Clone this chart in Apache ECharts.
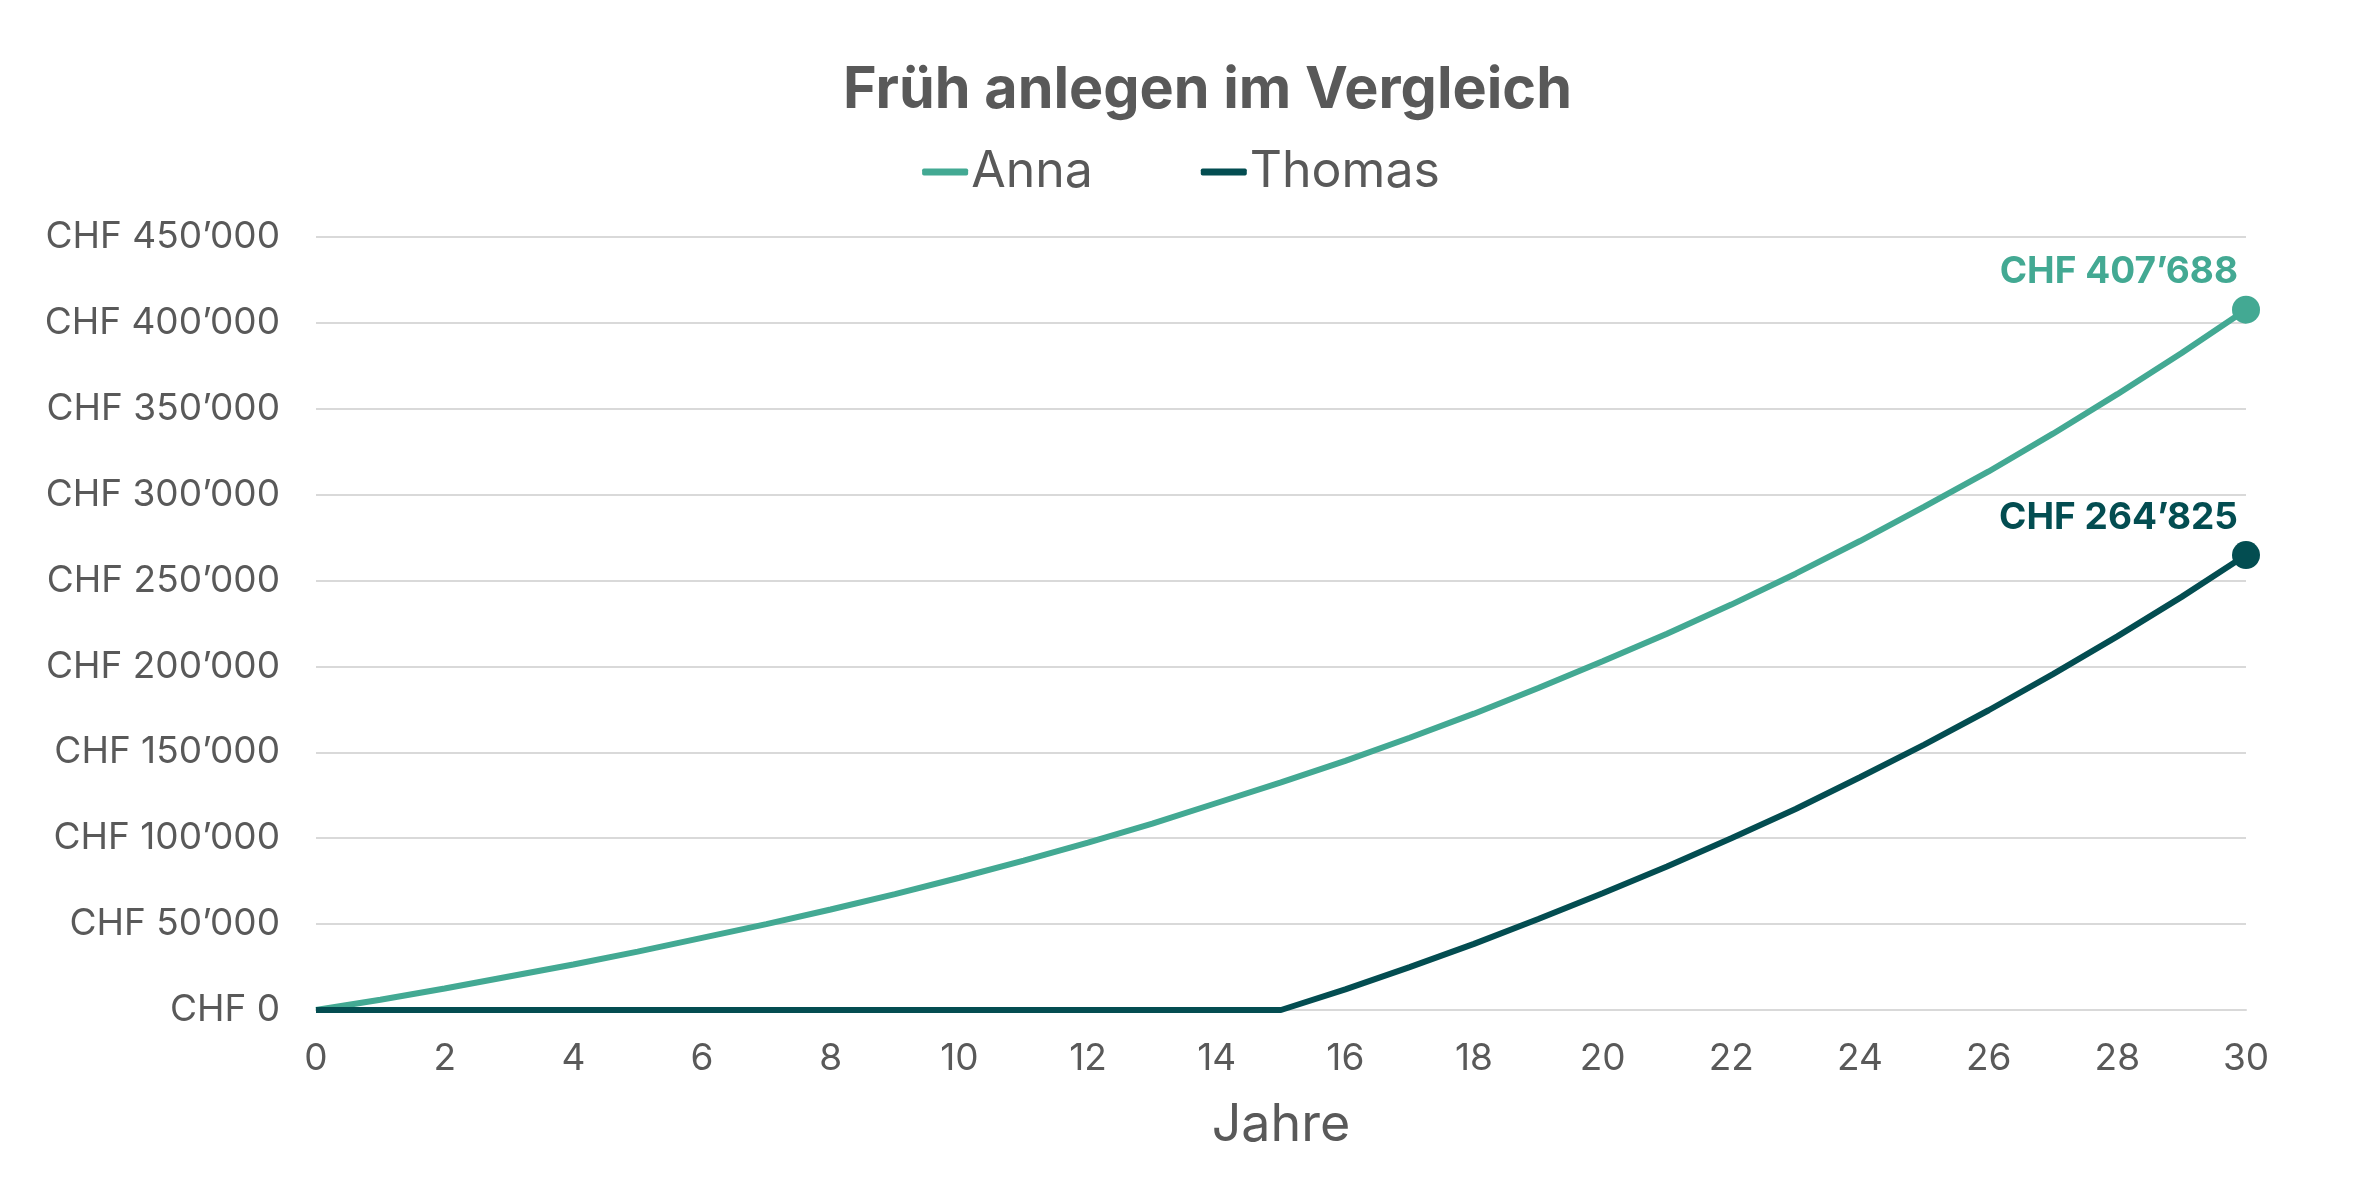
<!DOCTYPE html>
<html>
<head>
<meta charset="utf-8">
<script src="https://cdn.jsdelivr.net/npm/echarts@6/dist/echarts.min.js"></script>
<style>
  html, body { margin: 0; padding: 0; background: #fff; }
  #main { width: 2362px; height: 1181px; }
</style>
</head>
<body>
<div id="main"></div>
<script>
var years = [0, 1, 2, 3, 4, 5, 6, 7, 8, 9, 10, 11, 12, 13, 14, 15,
             16, 17, 18, 19, 20, 21, 22, 23, 24, 25, 26, 27, 28, 29, 30];

var anna = [0, 6000, 12500, 19500, 26500, 34000, 42000, 50000, 58500, 67500,
            77000, 87000, 97500, 108500, 120500, 132500, 145000, 158500, 172500, 187500,
            203000, 219000, 236000, 254000, 273000, 293000, 313500, 335500, 358500, 382500,
            407688];

var thomas = [0, 0, 0, 0, 0, 0, 0, 0, 0, 0,
              0, 0, 0, 0, 0, 0, 12000, 25000, 38500, 53000,
              68000, 83500, 100000, 117000, 135500, 154500, 174500, 195500, 217500, 240500,
              264825];

var annaColor = '#43a993';
var thomasColor = '#034d51';
var textColor = '#595959';
var font = 'Inter';

function chf(v) {
    var s = String(Math.round(v)).replace(/\B(?=(\d{3})+(?!\d))/g, '\u2019');
    return 'CHF ' + s;
}

// points for a series; only the last one gets a dot and a label
function points(values, color) {
    var last = values.length - 1;
    return values.map(function (v, i) {
        if (i !== last) return [years[i], v];
        return {
            value: [years[i], v],
            symbol: 'circle',
            symbolSize: 28,
            itemStyle: { color: color },
            label: {
                show: true,
                position: 'top',
                align: 'right',
                offset: [-8, 0],
                formatter: function (p) { return chf(p.value[1]); },
                color: color,
                fontFamily: font,
                fontWeight: 'bold',
                fontSize: 37
            }
        };
    });
}

var chart = echarts.init(document.getElementById('main'));

var option = {
    backgroundColor: '#ffffff',
    animation: false,
    textStyle: { fontFamily: font },
    title: {
        text: 'Früh anlegen im Vergleich',
        left: 843,
        top: 62,
        padding: 0,
        textStyle: {
            color: textColor,
            fontFamily: font,
            fontWeight: 'bold',
            fontSize: 57.5
        }
    },
    legend: {
        top: 142,
        left: 'center',
        itemGap: 108,
        itemWidth: 46,
        itemHeight: 7,
        icon: 'roundRect',
        data: ['Anna', 'Thomas'],
        textStyle: { color: textColor, fontFamily: font, fontSize: 50, padding: [0, 0, 0, -2] }
    },
    grid: {
        left: 316,
        right: 116,
        top: 237,
        bottom: 171
    },
    xAxis: {
        type: 'value',
        min: 0,
        max: 30,
        interval: 2,
        name: 'Jahre',
        nameLocation: 'middle',
        nameGap: 89,
        nameTextStyle: { color: textColor, fontFamily: font, fontSize: 52 },
        axisLine: { show: true, lineStyle: { color: '#d9d9d9', width: 2 } },
        axisTick: { show: false },
        splitLine: { show: false },
        axisLabel: { color: textColor, fontFamily: font, fontSize: 37, margin: 30 }
    },
    yAxis: {
        type: 'value',
        min: 0,
        max: 450000,
        interval: 50000,
        axisLine: { show: false },
        axisTick: { show: false },
        splitLine: { lineStyle: { color: '#d9d9d9', width: 2 } },
        axisLabel: {
            color: textColor,
            fontFamily: font,
            fontSize: 37,
            margin: 36,
            formatter: chf
        }
    },
    series: [
        {
            name: 'Anna',
            type: 'line',
            showSymbol: true,
            symbol: 'none',
            color: annaColor,
            lineStyle: { width: 6, color: annaColor },
            data: points(anna, annaColor)
        },
        {
            name: 'Thomas',
            type: 'line',
            showSymbol: true,
            symbol: 'none',
            color: thomasColor,
            lineStyle: { width: 6, color: thomasColor },
            data: points(thomas, thomasColor)
        }
    ]
};

chart.setOption(option);
</script>
</body>
</html>
